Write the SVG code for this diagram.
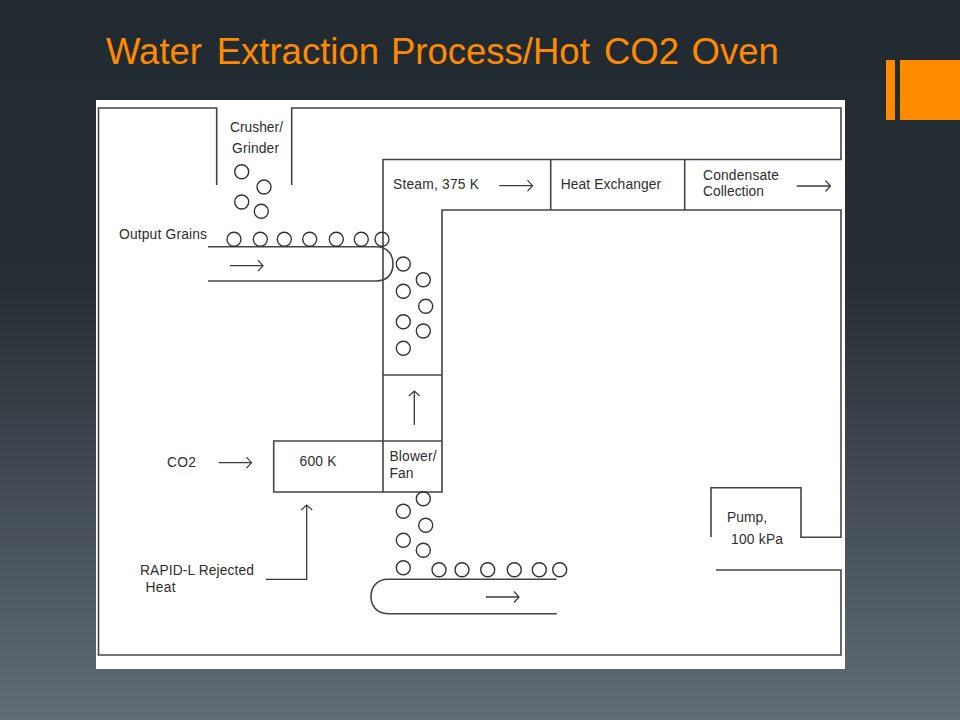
<svg xmlns="http://www.w3.org/2000/svg" width="960" height="720" viewBox="0 0 960 720">
<defs>
<linearGradient id="bg" x1="0" y1="0" x2="0" y2="1"><stop offset="0" stop-color="#222a31"/><stop offset="0.4" stop-color="#262f36"/><stop offset="1" stop-color="#626c75"/></linearGradient>
<marker id="a" markerUnits="userSpaceOnUse" markerWidth="12" markerHeight="14" refX="10" refY="7" orient="auto"><path d="M5 1.5L10 7L5 12.5" fill="none" stroke="#3a3a3a" stroke-width="1.2"/></marker>
</defs>
<style>
.l{fill:none;stroke:#444;stroke-width:1.6}
.c{fill:none;stroke:#333;stroke-width:1.4}
.ar{fill:none;stroke:#3a3a3a;stroke-width:1.3;marker-end:url(#a)}
text{font-family:"Liberation Sans",Arial,sans-serif;font-size:13.8px;fill:#2e2e2e}
.t{font-size:36.5px;fill:#ff8a00}
</style>
<rect width="960" height="720" fill="url(#bg)"/>
<rect x="886" y="60" width="9" height="60" fill="#ff8a00"/>
<rect x="900" y="60" width="60" height="60" fill="#ff8a00"/>
<text y="64" class="t"><tspan x="106">Water</tspan> <tspan x="216.7">Extraction</tspan> <tspan x="391">Process/Hot</tspan> <tspan x="604">CO2</tspan> <tspan x="691.5">Oven</tspan></text>
<rect x="96" y="100" width="749" height="569" fill="#fff"/>
<g id="vessel">
<path class="l" d="M216.7 185V108H98.5V655H841V570H716"/>
<path class="l" d="M291.7 185V108H841V159.5H383V492"/>
<path class="l" d="M711 537V487.7H801V537.3H841V210H442V492H273.7V441H442"/>
<path class="l" d="M383 375H442M550.7 159.5V210M684.7 159.5V210"/>
</g>
<g id="conveyors">
<path class="l" d="M208 246.7H376C388 246.7 393 255 393 264C393 273 388 281 376 281H208"/>
<path class="l" d="M556.7 579.3H388C376 579.3 371 588 371 596.5C371 605 376 613.7 388 613.7H556.7"/>
</g>
<g id="grains">
<g class="c">
<circle cx="241.7" cy="171.7" r="7"/><circle cx="264" cy="187" r="7"/><circle cx="241.7" cy="202" r="7"/><circle cx="261.3" cy="211.3" r="7"/>
<circle cx="234" cy="239.3" r="7"/><circle cx="260.3" cy="239.3" r="7"/><circle cx="284.3" cy="239.3" r="7"/><circle cx="309.7" cy="239.3" r="7"/><circle cx="336.3" cy="239.3" r="7"/><circle cx="361.3" cy="239.3" r="7"/><circle cx="382" cy="239.3" r="7"/>
<circle cx="403.3" cy="264" r="7"/><circle cx="423.3" cy="279.7" r="7"/><circle cx="403.3" cy="291.3" r="7"/><circle cx="425.7" cy="306.3" r="7"/><circle cx="403.3" cy="321.7" r="7"/><circle cx="423.3" cy="331" r="7"/><circle cx="403.3" cy="348.3" r="7"/>
<circle cx="423.3" cy="498.7" r="7"/><circle cx="403.3" cy="511.3" r="7"/><circle cx="425.7" cy="525.3" r="7"/><circle cx="403.3" cy="540.3" r="7"/><circle cx="423.3" cy="550.3" r="7"/><circle cx="403.3" cy="567.7" r="7"/>
<circle cx="439" cy="569.7" r="7"/><circle cx="462" cy="569.7" r="7"/><circle cx="487.7" cy="569.7" r="7"/><circle cx="514.3" cy="569.7" r="7"/><circle cx="539.3" cy="569.7" r="7"/><circle cx="559.7" cy="569.7" r="7"/>
</g>
</g>
<g id="connectors">
<path class="ar" d="M230 265.7H263"/>
<path class="ar" d="M499.3 185.7H532.5"/>
<path class="ar" d="M796.7 186H830.5"/>
<path class="ar" d="M414.3 425V391"/>
<path class="ar" d="M218.7 462.7H251.5"/>
<path class="ar" d="M486 597H519"/>
<path class="ar" d="M266 579.3H306.7V505"/>
</g>
<g id="labels">
<text x="230" y="131.5" textLength="53">Crusher/</text>
<text x="232" y="153" textLength="47">Grinder</text>
<text x="393" y="188.7" textLength="86">Steam, 375 K</text>
<text x="560.7" y="188.7" textLength="100.5">Heat Exchanger</text>
<text x="703" y="180" textLength="76">Condensate</text>
<text x="703" y="196" textLength="61">Collection</text>
<text x="119" y="239" textLength="88">Output Grains</text>
<text x="167" y="467" textLength="29">CO2</text>
<text x="299.5" y="466" textLength="37">600 K</text>
<text x="389.5" y="461" textLength="47">Blower/</text>
<text x="389.5" y="477.7" textLength="24">Fan</text>
<text x="140" y="575" textLength="114">RAPID-L Rejected</text>
<text x="145.5" y="591.7" textLength="30">Heat</text>
<text x="727" y="522" textLength="40">Pump,</text>
<text x="731" y="544" textLength="52">100 kPa</text>
</g>
</svg>
